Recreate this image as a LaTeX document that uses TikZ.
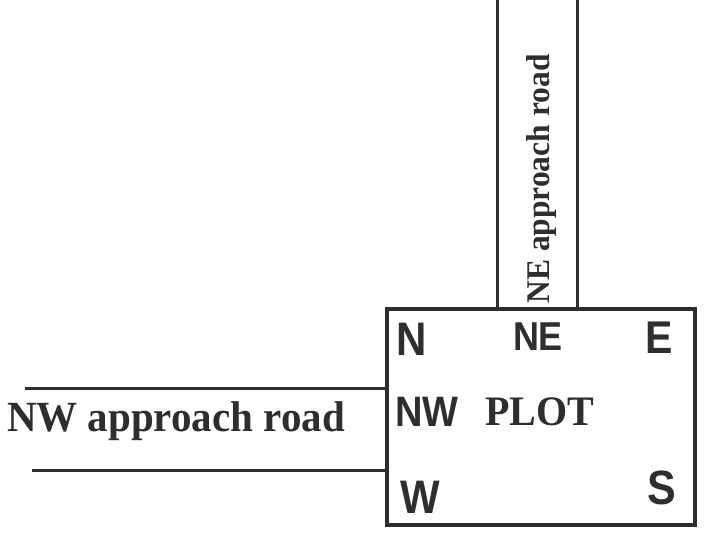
\documentclass[tikz,border=0pt]{standalone}
\usepackage{fontspec}
\setmainfont{Liberation Serif}
\setsansfont{Liberation Sans}
\usetikzlibrary{positioning}
\definecolor{ink}{HTML}{2E2E2E}

\begin{document}
\begin{tikzpicture}[x=1pt,y=-1pt,
road/.style={line width=3pt,draw=ink},
plotbox/.style={draw=ink,line width=3.5pt,minimum width=308pt,minimum height=216pt,inner sep=0pt},
compass/.style={text=ink,inner sep=0pt,yscale=1.12,font=\sffamily\bfseries\fontsize{#1}{#1}\selectfont},
caption/.style={text=ink,inner sep=0pt,font=\rmfamily\bfseries\fontsize{#1}{#1}\selectfont}]
\useasboundingbox (0,0) rectangle (704,539);
\node[plotbox] (plot) at (541,417) {};
% approach roads
\coordinate (nwa) at (25,388);
\coordinate (nwb) at (32,470);
\coordinate (nea) at (497,0);
\coordinate (neb) at (577,0);
\draw[road] (nwa) -- (nwa -| plot.west);
\draw[road] (nwb) -- (nwb -| plot.west);
\draw[road] (nea) -- (nea |- plot.north);
\draw[road] (neb) -- (neb |- plot.north);
\node[caption=41,yscale=1.05] (nwroad) at (176,421) {NW approach road};
\node[caption=31.5,rotate=90,yscale=1.05] (neroad) at (542,179) {NE approach road};
% labels in the plot
\node[compass=42] (n) at (412,339) {N};
\node[compass=36] (ne) at (538,337) {NE};
\node[compass=41] (e) at (659,338) {E};
\node[compass=38] (nw) at (427,412) {NW};
\node[caption=40,yscale=1.05] (plotlbl) at (540,412) {PLOT};
\node[compass=42] (w) at (420,497) {W};
\node[compass=43] (s) at (662,488) {S};
\end{tikzpicture}
\end{document}
